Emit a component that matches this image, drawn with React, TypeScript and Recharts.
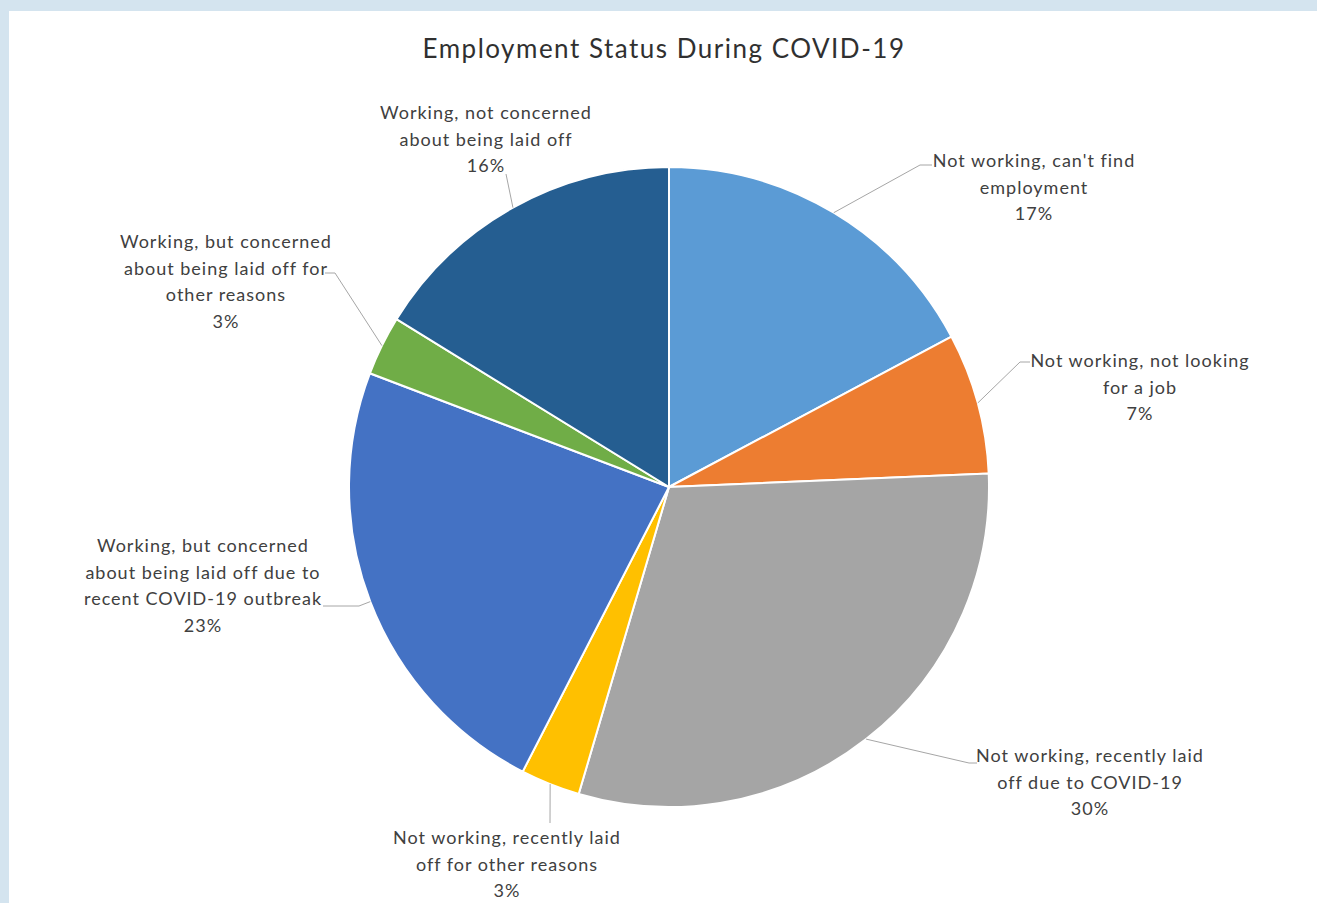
import { PieChart, Pie, Cell } from 'recharts'

// slices clockwise from 12 o'clock
const categories = [
  "Not working, can't find employment",
  'Not working, not looking for a job',
  'Not working, recently laid off due to COVID-19',
  'Not working, recently laid off for other reasons',
  'Working, but concerned about being laid off due to recent COVID-19 outbreak',
  'Working, but concerned about being laid off for other reasons',
  'Working, not concerned about being laid off'
]
const shares = [17.2, 7.1, 30.2, 3.0, 23.2, 3.0, 16.2]
const labelLines = [
  ["Not working, can't find", 'employment'],
  ['Not working, not looking', 'for a job'],
  ['Not working, recently laid', 'off due to COVID-19'],
  ['Not working, recently laid', 'off for other reasons'],
  ['Working, but concerned', 'about being laid off due to', 'recent COVID-19 outbreak'],
  ['Working, but concerned', 'about being laid off for', 'other reasons'],
  ['Working, not concerned', 'about being laid off']
]
const colors = ['#5b9bd5', '#ed7d31', '#a5a5a5', '#ffc000', '#4472c4', '#70ad47', '#255e91']

// label placement relative to pie centre: text centre (first line), leader elbow, stub
const labelLayout = [
  { tx: 365, ty: -327, lx: 251, ly: -322, stub: 12 },
  { tx: 471, ty: -127, lx: 351, ly: -125, stub: 10 },
  { tx: 421, ty: 268, lx: 300, ly: 276, stub: 8 },
  { tx: -162, ty: 350, lx: -119, ly: 336, stub: 0 },
  { tx: -466, ty: 58, lx: -310, ly: 119, stub: -36 },
  { tx: -443, ty: -246, lx: -334, ly: -214, stub: -10 },
  { tx: -183, ty: -375, lx: -163, ly: -313, stub: 0 }
]

const data = categories.map((name, i) => ({ name, value: shares[i] }))

const W = 1308
const H = 892
const CX = 660
const CY = 476
const R = 320
const LINE_H = 26.5
const RAD = Math.PI / 180

const renderLabel = (props: any) => {
  const { cx, cy, midAngle, outerRadius, index, percent } = props
  const lay = labelLayout[index]
  const sx = cx + outerRadius * Math.cos(-midAngle * RAD)
  const sy = cy + outerRadius * Math.sin(-midAngle * RAD)
  const ex = cx + lay.lx
  const ey = cy + lay.ly
  const lines = [...labelLines[index], `${Math.round(percent * 100)}%`]
  return (
    <g key={`lbl-${index}`}>
      <polyline
        points={`${sx},${sy} ${ex},${ey} ${ex + lay.stub},${ey}`}
        fill="none"
        stroke="#a6a6a6"
        strokeWidth={1}
      />
      <text
        x={cx + lay.tx}
        y={cy + lay.ty}
        textAnchor="middle"
        dominantBaseline="central"
        fill="#404040"
        fontSize={18}
        letterSpacing={1}
        fontFamily="Lato, sans-serif"
      >
        {lines.map((l, i) => (
          <tspan key={i} x={cx + lay.tx} dy={i === 0 ? 0 : LINE_H}>
            {l}
          </tspan>
        ))}
      </text>
    </g>
  )
}

export default function App() {
  return (
    <div
      style={{
        position: 'fixed',
        left: 0,
        top: 0,
        width: 1317,
        height: 903,
        background: '#d4e4ef',
        overflow: 'hidden'
      }}
    >
      <div style={{ position: 'absolute', left: 9, top: 11, width: W, height: H, background: '#fff' }}>
        <svg width={W} height={60} style={{ position: 'absolute', left: 0, top: 0 }}>
          <text
            x={655}
            y={47}
            textAnchor="middle"
            fill="#303030"
            fontSize={26}
            letterSpacing={1.5}
            fontFamily="Lato, sans-serif"
          >
            Employment Status During COVID-19
          </text>
        </svg>
        <PieChart
          width={W}
          height={H}
          margin={{ top: 0, right: 0, bottom: 0, left: 0 }}
          style={{ position: 'absolute', left: 0, top: 0 }}
        >
          <Pie
            data={data}
            dataKey="value"
            nameKey="name"
            cx={CX}
            cy={CY}
            outerRadius={R}
            startAngle={90}
            endAngle={-270}
            stroke="#ffffff"
            strokeWidth={2}
            label={renderLabel}
            labelLine={false}
            isAnimationActive={false}
          >
            {data.map((d, i) => (
              <Cell key={d.name} fill={colors[i]} />
            ))}
          </Pie>
        </PieChart>
      </div>
    </div>
  )
}
